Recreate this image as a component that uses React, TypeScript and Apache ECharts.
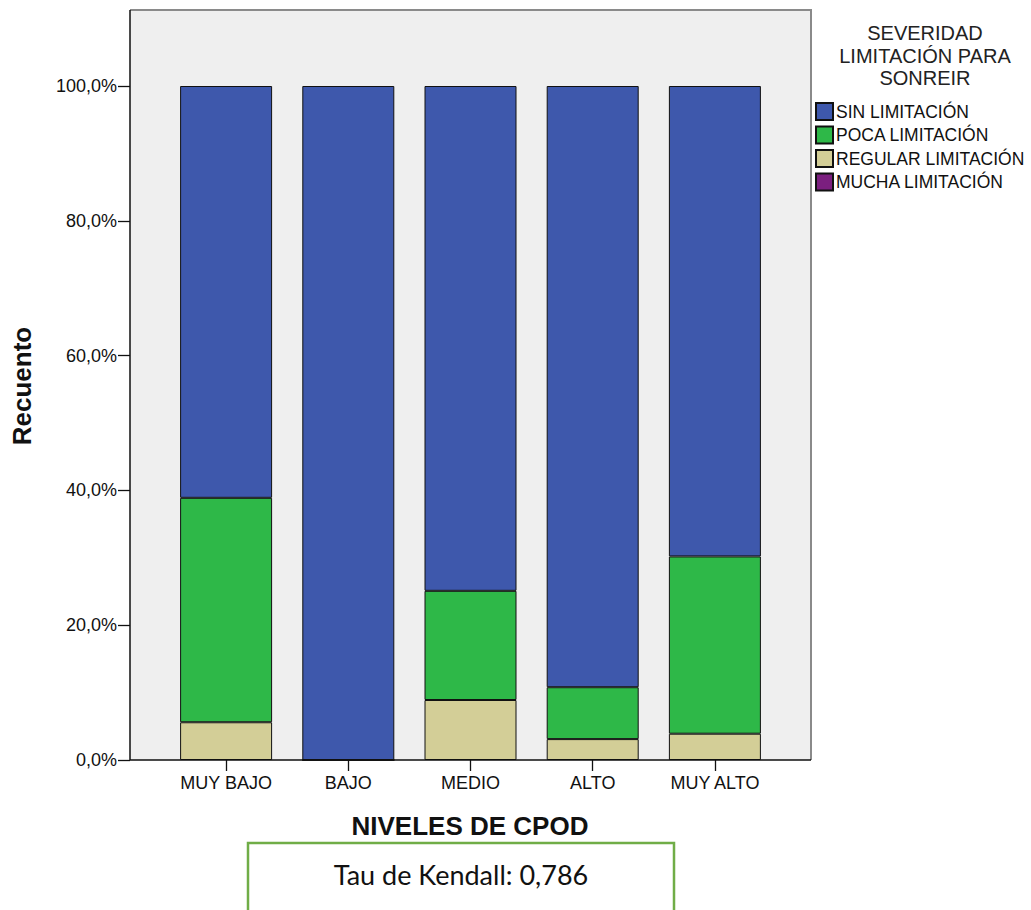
import React, { useEffect, useRef } from "react";
import * as echarts from "echarts";

const categories = ["MUY BAJO", "BAJO", "MEDIO", "ALTO", "MUY ALTO"];
const regularLimitacion = [5.6, 0, 8.9, 3.1, 3.9];
const pocaLimitacion = [33.3, 0, 16.2, 7.7, 26.3];
const sinLimitacion = [61.1, 100, 74.9, 89.2, 69.8];
const muchaLimitacion = [null, null, null, null, null];
const yTicks = [0, 20, 40, 60, 80, 100];

const FONT = "'Liberation Sans', Arial, sans-serif";

export default function App() {
  const ref = useRef<HTMLDivElement>(null);
  useEffect(() => {
    if (!ref.current) return;
    const chart = echarts.init(ref.current, null, { renderer: "svg" });
    const border = { borderColor: "#111", borderWidth: 1 };
    chart.setOption({
      animation: false,
      textStyle: { fontFamily: FONT },
      grid: { left: 165, right: 255, top: 86, bottom: 150 },
      xAxis: {
        type: "category",
        data: categories,
        axisLine: { show: false },
        axisTick: { show: true, alignWithLabel: true, length: 11, lineStyle: { color: "#111", width: 1.3 } },
        axisLabel: { fontSize: 18, color: "#111", margin: 14, fontFamily: FONT },
      },
      yAxis: {
        type: "value",
        min: yTicks[0],
        max: yTicks[yTicks.length - 1],
        interval: 20,
        offset: 35,
        axisLine: { show: false },
        axisTick: { show: true, length: 12, lineStyle: { color: "#111", width: 1.3 } },
        splitLine: { show: false },
        axisLabel: {
          fontSize: 18,
          color: "#111",
          margin: 13,
          fontFamily: FONT,
          formatter: (v: number) => v.toFixed(1).replace(".", ",") + "%",
        },
      },
      legend: {
        orient: "vertical",
        left: 815,
        top: 102,
        padding: 0,
        itemWidth: 17,
        itemHeight: 17,
        itemGap: 4.5,
        icon: "rect",
        data: ["SIN LIMITACIÓN", "POCA LIMITACIÓN", "REGULAR LIMITACIÓN", "MUCHA LIMITACIÓN"],
        textStyle: { fontSize: 17.5, color: "#111", fontFamily: FONT, padding: [0, 0, 0, -2] },
      },
      series: [
        {
          name: "REGULAR LIMITACIÓN",
          type: "bar",
          stack: "s",
          barWidth: 92,
          data: regularLimitacion,
          itemStyle: { color: "#D3CE97", ...border },
        },
        {
          name: "POCA LIMITACIÓN",
          type: "bar",
          stack: "s",
          barWidth: 92,
          data: pocaLimitacion,
          itemStyle: { color: "#2EB848", ...border },
        },
        {
          name: "SIN LIMITACIÓN",
          type: "bar",
          stack: "s",
          barWidth: 92,
          data: sinLimitacion,
          itemStyle: { color: "#3E58AC", ...border },
        },
        {
          name: "MUCHA LIMITACIÓN",
          type: "bar",
          stack: "s",
          barWidth: 92,
          data: muchaLimitacion,
          itemStyle: { color: "#7B1F7F", ...border },
        },
      ],
      graphic: [
        {
          type: "rect",
          z: -10,
          silent: true,
          shape: { x: 130, y: 10, width: 681, height: 750 },
          style: { fill: "#EFEFEF" },
        },
        {
          type: "polyline",
          z: 10,
          silent: true,
          shape: { points: [[130, 10], [811, 10], [811, 760]] },
          style: { stroke: "#8A8A8A", lineWidth: 2, fill: null },
        },
        {
          type: "polyline",
          z: 11,
          silent: true,
          shape: { points: [[130, 10], [130, 760], [811, 760]] },
          style: { stroke: "#111", lineWidth: 1.5, fill: null },
        },
        {
          type: "text",
          z: 10,
          x: 925,
          y: 22,
          style: {
            text: "SEVERIDAD\nLIMITACIÓN PARA\nSONREIR",
            font: `20px ${FONT}`,
            fill: "#222",
            align: "center",
            verticalAlign: "top",
            lineHeight: 22.5,
          },
        },
        {
          type: "text",
          z: 10,
          x: 470,
          y: 826,
          style: {
            text: "NIVELES DE CPOD",
            font: `bold 26px ${FONT}`,
            fill: "#111",
            align: "center",
            verticalAlign: "middle",
          },
        },
        {
          type: "text",
          z: 10,
          x: 22,
          y: 386,
          rotation: Math.PI / 2,
          style: {
            text: "Recuento",
            font: `bold 26px ${FONT}`,
            fill: "#111",
            align: "center",
            verticalAlign: "middle",
          },
        },
        {
          type: "rect",
          z: 10,
          silent: true,
          shape: { x: 248, y: 843, width: 426, height: 80 },
          style: { fill: "#fff", stroke: "#70AD47", lineWidth: 2.5 },
        },
        {
          type: "text",
          z: 11,
          x: 461,
          y: 874,
          style: {
            text: "Tau de Kendall: 0,786",
            font: `27px Lato, 'Open Sans', sans-serif`,
            fill: "#111",
            align: "center",
            verticalAlign: "middle",
          },
        },
      ],
    });
    return () => chart.dispose();
  }, []);
  return (
    <div
      ref={ref}
      style={{ position: "fixed", left: 0, top: 0, width: 1031, height: 910, background: "#fff" }}
    />
  );
}
